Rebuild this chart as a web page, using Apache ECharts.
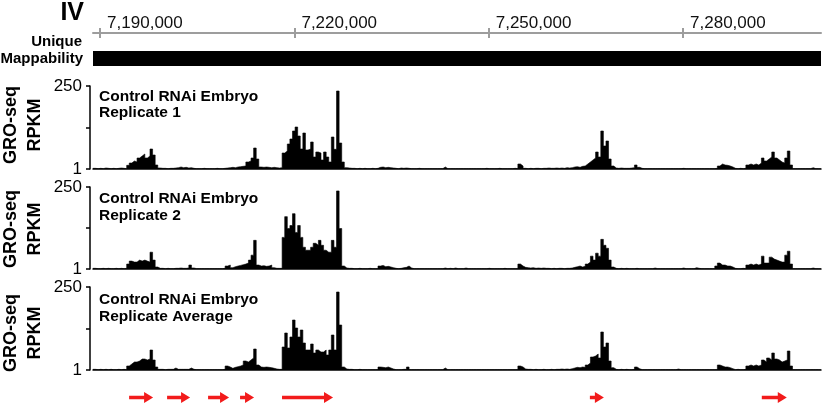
<!DOCTYPE html>
<html>
<head>
<meta charset="utf-8">
<script src="https://cdn.jsdelivr.net/npm/echarts@6/dist/echarts.min.js"></script>
<style>
html, body { margin: 0; padding: 0; background: #fff; }
#chart { width: 827px; height: 407px; }
</style>
</head>
<body>
<div id="chart"></div>
<script>
// genomic window, chromosome IV
const binStart = 7188900;
const binSize = 400;
const viewEnd = 7301300;
const rulerTicks = [7190000, 7220000, 7250000, 7280000];

// unique mappability intervals
const mapRegions = [[7188900, 7301300]];

// GRO-seq RPKM per 400bp bin
const rep1 = [
  3,2,3,2,4,3,2,3,2,3,4,3,2,
  12,19,25,22,34,40,46,34,40,61,43,13,
  4,3,3,2,3,3,4,5,7,5,6,4,5,3,
  2,2,2,3,2,2,2,2,3,2,2,3,
  4,5,6,5,7,8,9,
  10,22,25,34,64,31,
  7,6,7,6,5,6,5,4,5,
  49,55,76,91,115,127,100,61,109,58,61,82,37,52,49,28,52,37,22,97,60,235,79,22,
  5,4,3,3,2,3,2,3,2,2,3,2,3,
  6,7,5,6,5,4,
  3,2,4,3,4,3,2,2,2,3,2, 2,2,2,2,2,2,2,2, 7, 2,2,2,2,2,2,2,2,2,2,2,2,2,
  2,2,3,2,2,2,2,3,2,2,2,2,2,3,2,
  16,10,
  3,2,3,2,3,3,2,3,3,4,3,3,4,3,4,3,5,4,5,
  7,8,6,9,10,
  16,22,28,34,52,37,115,70,85,31,10,
  4,3,4,3,3,3,4,5,13,6, 3,2,2,2,2,2,2,2,2,2,2,2,2,2,2,2,3,2,2,2,2,2,2,2,2,2,2,2,2,3,
  10,16,13,12,10,7,
  3,2,3,2,3,
  13,16,13,16,13,19,34,25,31,37,52,34,28,22,19,34,55,13,
  2,2,2,2,2,2,2,5,2,2,2
];

const rep2 = [
  3,2,2,3,2,3,2,2,3,2,3,2,3,
  16,25,22,22,28,25,28,25,22,52,28,7,
  3,3,2,3,2,2,3,3,4,3,3,4,13,4,
  2,2,2,2,2,2,2,2,2,2,2,3,
  10,13,5,8,10,12,14,
  16,19,28,43,88,13,
  10,11,9,10,13,5,3,3,3,
  97,160,124,133,169,112,133,97,67,58,58,67,79,73,88,73,58,52,52,88,67,238,124,10,
  4,3,3,2,2,3,2,2,2,3,2,2,2,
  10,12,8,9,7,5,
  3,2,3,5,6,10,4, 2,2,2,2,2,2,2,2,2,2,2,2,4,2,3,2,4,2,2,2,4,2,2,2,2,2,
  2,2,2,3,2,2,2,2,2,3,2,2,2,2,2,
  16,10,
  6,5,4,5,3,4,3,4,3,3,2,3,2,3,3,2,3,3,4,
  6,8,10,7,9,
  16,22,40,28,49,40,91,73,64,28,7,
  3,2,3,2,3,2,2,2,3,2,2,2,2,2,2, 4, 2,2,2,2,2,2,2,2,2,2, 4, 2,2,2,2, 5,3, 2,2,2,2,2,2, 10,
  19,13,13,10,10,7,
  3,2,2,3,2,
  13,16,13,16,13,16,40,19,19,37,31,28,25,22,22,43,55,16,
  2,2,2,2,2,2,2,4,2,2,2
];

const repAvg = [
  3,2,3,2,3,2,3,2,2,3,2,3,2,
  13,19,25,25,28,34,34,31,34,61,31,10,
  3,3,2,3,3,3,7,3,3,3,3,3,7,3,
  2,2,2,2,2,2,2,2,2,2,2,3,
  13,10,6,9,11,13,16,
  28,25,31,37,64,16,
  10,9,10,9,8,6,4,3,3,
  70,112,67,100,151,127,100,121,82,61,61,79,52,61,55,55,61,46,61,106,61,235,136,10,
  4,3,3,2,2,3,2,2,2,2,2,2,2,
  10,9,8,10,7,4,
  2,2,2,3,3,10,2, 2,2,2,2,2,2,2,2,2,2,2,2, 7, 2,2,2,2,2,2,2,2,2,2,2,2,2,
  2,2,2,2,2,2,2,2,2,2,2,2,2,2,2,
  13,10,
  4,3,3,2,3,2,2,3,2,2,3,2,3,3,4,3,4,3,5,
  7,9,8,10,9,
  16,22,40,43,49,37,115,70,82,28,8,
  3,2,3,2,3,2,2,3,10,5, 2,2,2,2,2,2,2,2,2,2,2,2,2,2, 4, 2,2,2,2,2,2,2,2,2,2,2,2,2,2,2,
  16,13,10,10,8,5,
  2,3,2,2,3,
  13,16,13,16,13,16,31,25,37,31,52,34,31,25,28,31,58,13,
  2,2,2,2,2,2,2,2,2,2,2
];

// genes (+ strand)
const geneStarts = [7194475, 7200340, 7206667, 7211605, 7218086, 7265617, 7292160];
const geneEnds   = [7198179, 7203889, 7209907, 7213765, 7225957, 7267778, 7296018];

const trackTitles = ['Replicate 1', 'Replicate 2', 'Replicate Average'];

const FONT = '"Liberation Sans", Arial, Helvetica, sans-serif';
const chart = echarts.init(document.getElementById('chart'));

const toSteps = (vals) => {
  const d = vals.map((v, i) => [binStart + i * binSize, v]);
  d.push([binStart + vals.length * binSize, vals[vals.length - 1]]);
  return d;
};

const trackTops = [86, 187, 287];
const trackHeights = [83, 82, 83];
const plotLeft = 93, plotWidth = 728;

const grids = [
  { left: plotLeft, width: plotWidth, top: 33, height: 10 },   // ruler
  { left: plotLeft, width: plotWidth, top: 33, height: 10 },   // ruler lower ticks
  { left: plotLeft, width: plotWidth, top: 51, height: 15 },   // mappability
];
trackTops.forEach((t, i) => grids.push({ left: plotLeft, width: plotWidth, top: t, height: trackHeights[i] }));
grids.push({ left: plotLeft, width: plotWidth, top: 391, height: 13 }); // genes

const hiddenX = (g) => ({ gridIndex: g, type: 'value', min: binStart, max: viewEnd, show: false });
const hiddenY = (g) => ({ gridIndex: g, type: 'value', min: 0, max: 1, show: false });

const xAxes = [
  {
    gridIndex: 0, type: 'value', min: binStart, max: viewEnd, position: 'top',
    axisLine: { onZero: false, lineStyle: { color: '#9d9d9d', width: 2 } },
    axisTick: { customValues: rulerTicks, length: 5, lineStyle: { color: '#9d9d9d', width: 2 } },
    axisLabel: {
      customValues: rulerTicks, formatter: (v) => echarts.format.addCommas(v),
      align: 'left', padding: [0, 0, 0, 7], margin: 1,
      fontSize: 17, color: '#111', fontFamily: FONT
    },
    splitLine: { show: false }
  },
  {
    gridIndex: 1, type: 'value', min: binStart, max: viewEnd, position: 'top',
    axisLine: { show: false, onZero: false },
    axisTick: { customValues: rulerTicks, inside: true, length: 5, lineStyle: { color: '#9d9d9d', width: 2 } },
    axisLabel: { show: false },
    splitLine: { show: false }
  },
  hiddenX(2)
];
const yAxes = [hiddenY(0), hiddenY(1), hiddenY(2)];

trackTops.forEach((t, i) => {
  const g = 3 + i;
  xAxes.push({
    gridIndex: g, type: 'value', min: binStart, max: viewEnd,
    axisLine: { show: true, onZero: false, lineStyle: { color: '#000', width: 1.5 } },
    axisTick: { show: false }, axisLabel: { show: false }, splitLine: { show: false }
  });
  yAxes.push({
    gridIndex: g, type: 'value', min: 1, max: 250, offset: 3,
    axisLine: { show: true, lineStyle: { color: '#000', width: 1.5 } },
    axisTick: { customValues: [1, 125.5, 250], length: 4, lineStyle: { color: '#000', width: 1.5 } },
    axisLabel: { customValues: [1, 250], fontSize: 17, color: '#000', margin: 8, fontFamily: FONT },
    splitLine: { show: false }
  });
});
xAxes.push(hiddenX(6));
yAxes.push(hiddenY(6));

const series = [
  {
    type: 'custom', xAxisIndex: 2, yAxisIndex: 2, silent: true,
    data: mapRegions,
    renderItem: (params, api) => {
      const a = api.coord([api.value(0), 1]);
      const b = api.coord([api.value(1), 0]);
      return { type: 'rect', shape: { x: a[0], y: a[1], width: b[0] - a[0], height: b[1] - a[1] }, style: { fill: '#000' } };
    }
  }
];

[rep1, rep2, repAvg].forEach((vals, i) => {
  series.push({
    type: 'line', xAxisIndex: 3 + i, yAxisIndex: 3 + i, step: 'end', symbol: 'none', silent: true,
    data: toSteps(vals),
    lineStyle: { color: '#000', width: 0.6 },
    areaStyle: { color: '#000', opacity: 1, origin: 'start' }
  });
});

series.push({
  type: 'custom', xAxisIndex: 6, yAxisIndex: 6, silent: true,
  data: geneStarts.map((s, i) => [s, geneEnds[i]]),
  renderItem: (params, api) => {
    const s = api.coord([api.value(0), 0.5]);
    const e = api.coord([api.value(1), 0.5]);
    const head = 9, hh = 5.5, sh = 1.8, y = s[1];
    return {
      type: 'polygon',
      shape: { points: [[s[0], y - sh], [e[0] - head, y - sh], [e[0] - head, y - hh], [e[0], y],
                        [e[0] - head, y + hh], [e[0] - head, y + sh], [s[0], y + sh]] },
      style: { fill: '#f21b1b' }
    };
  }
});

// labels
const txt = (text, x, y, size, align, extra) => Object.assign({
  type: 'text', x: x, y: y, silent: true,
  style: { text: text, fill: '#000', font: 'bold ' + size + 'px ' + FONT, textAlign: align, textVerticalAlign: 'middle' }
}, extra || {});

const graphics = [
  txt('IV', 84, 13, 25, 'right'),
  txt('Unique', 82, 42, 15, 'right'),
  txt('Mappability', 83, 59, 15, 'right')
];
const titleY = [[97, 113], [199, 216], [300, 317]];
const sideY = [125, 229, 333];
trackTitles.forEach((t, i) => {
  graphics.push(txt('Control RNAi Embryo', 99, titleY[i][0], 15.5, 'left'));
  graphics.push(txt(t, 99, titleY[i][1], 15.5, 'left'));
  graphics.push(txt('GRO-seq', 11, sideY[i], 18, 'center', { rotation: Math.PI / 2 }));
  graphics.push(txt('RPKM', 35, sideY[i], 18, 'center', { rotation: Math.PI / 2 }));
});

chart.setOption({
  animation: false,
  grid: grids,
  xAxis: xAxes,
  yAxis: yAxes,
  series: series,
  graphic: graphics
});
</script>
</body>
</html>
